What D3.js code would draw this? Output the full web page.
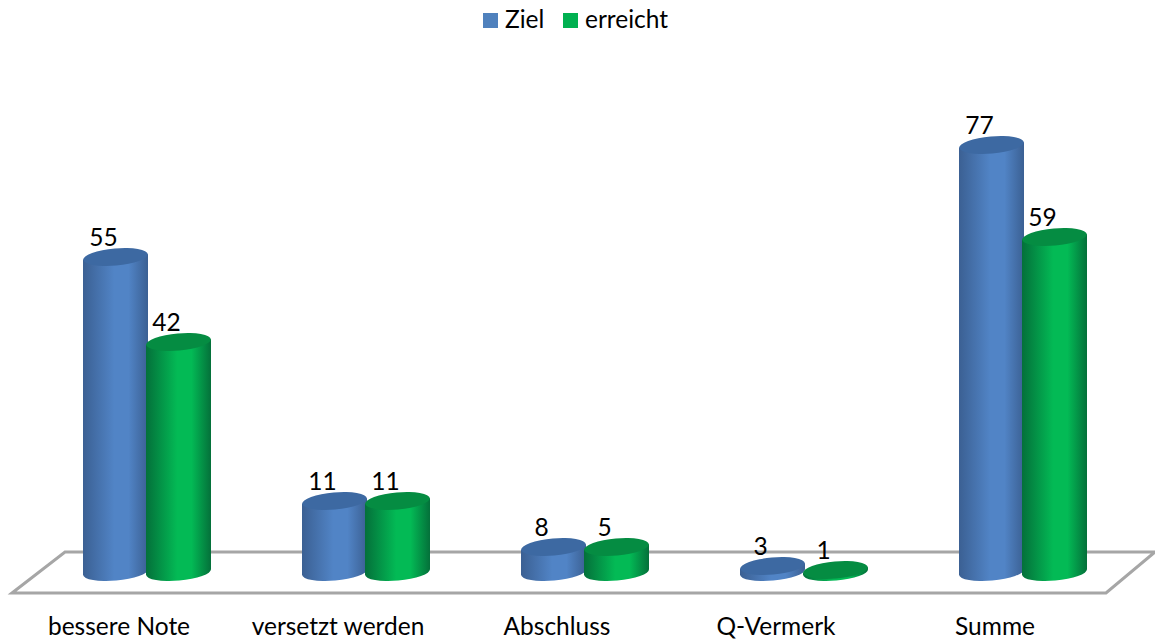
<!DOCTYPE html>
<html>
<head>
<meta charset="utf-8">
<script src="https://cdn.jsdelivr.net/npm/d3@7"></script>
<style>
  html, body { margin: 0; padding: 0; background: #fff; }
  text { font-family: Lato, "Open Sans", sans-serif; fill: #000; }
</style>
</head>
<body>
<div id="chart"></div>
<script>
var categories = ["bessere Note", "versetzt werden", "Abschluss", "Q-Vermerk", "Summe"];
var seriesNames = ["Ziel", "erreicht"];
var ziel = [55, 11, 8, 3, 77];
var erreicht = [42, 11, 5, 1, 59];

// the value axis of the original is not even: small bars are not in proportion
// to their labels, so the scale has a stop for each value seen in the picture
var valueStops = [0, 1, 3, 5, 8, 11, 42, 55, 59, 77];
var pixelStops = [572, 570, 566, 547, 547, 501, 342, 257, 237, 145];

var width = 1155, height = 639;
var rx = 32.5, ry = 8.5, tilt = -5;
var colors = {
  Ziel: {edge: "#3b6093", mid: "#5184c6", top: "#3d69a2"},
  erreicht: {edge: "#04703a", mid: "#03ba55", top: "#058c42"}
};

var svg = d3.select("#chart").append("svg")
    .attr("width", width).attr("height", height);

var x0 = d3.scaleBand().domain(categories).range([37.5, 1132.5]);
var x1 = d3.scalePoint().domain(seriesNames).range([-31.5, 31.5]);
var y = d3.scaleLinear().domain(valueStops).range(pixelStops);

// gradients for the cylinder sides
var defs = svg.append("defs");
seriesNames.forEach(function(name) {
  var c = colors[name];
  var grad = defs.append("linearGradient").attr("id", "side-" + name);
  grad.append("stop").attr("offset", "0%").attr("stop-color", c.edge);
  grad.append("stop").attr("offset", "48%").attr("stop-color", c.mid);
  grad.append("stop").attr("offset", "70%").attr("stop-color", c.mid);
  grad.append("stop").attr("offset", "100%").attr("stop-color", c.edge);
});

// floor
svg.append("path")
    .attr("d", "M12,593 L65,552 L1155,552 L1106,593 Z")
    .attr("fill", "none")
    .attr("stroke", "#a6a6a6")
    .attr("stroke-width", 3);

// a flat table of bars, drawn left to right
var bars = [];
categories.forEach(function(c, i) {
  bars.push({cat: c, series: "Ziel", value: ziel[i]});
  bars.push({cat: c, series: "erreicht", value: erreicht[i]});
});

var cx = function(d) { return x0(d.cat) + x0.bandwidth() / 2 + x1(d.series); };
var dy = Math.tan(tilt * Math.PI / 180) * rx;

var bar = svg.selectAll("g.bar")
    .data(bars)
  .enter().append("g")
    .attr("class", "bar")
    .attr("transform", function(d) { return "translate(" + cx(d) + ",0)"; });

bar.append("path")
    .attr("fill", function(d) { return "url(#side-" + d.series + ")"; })
    .attr("d", function(d) {
      var top = y(d.value), base = y(0);
      return "M" + (-rx) + "," + (top - dy) +
        " L" + (-rx) + "," + (base - dy) +
        " A" + rx + "," + ry + " " + tilt + " 0 0 " + rx + "," + (base + dy) +
        " L" + rx + "," + (top + dy) + " Z";
    });

bar.append("ellipse")
    .attr("rx", rx)
    .attr("ry", ry)
    .attr("fill", function(d) { return colors[d.series].top; })
    .attr("transform", function(d) { return "translate(0," + y(d.value) + ") rotate(" + tilt + ")"; });

bar.append("text")
    .attr("x", -12)
    .attr("y", function(d) { return y(d.value) - 11; })
    .attr("text-anchor", "middle")
    .style("font-size", "24.5px")
    .text(function(d) { return d.value; });

// category labels sit left of the bars, as in the original perspective
var xAxis = svg.append("g")
    .attr("transform", "translate(-28,635)")
    .call(d3.axisBottom(x0).tickSize(0).tickPadding(0));
xAxis.select(".domain").remove();
xAxis.selectAll("text")
    .attr("y", 0)
    .attr("dy", 0)
    .style("font-size", "24.5px");

// legend
var legendX = d3.scaleOrdinal().domain(seriesNames).range([483, 563]);
var legend = svg.selectAll("g.legend")
    .data(seriesNames)
  .enter().append("g")
    .attr("class", "legend")
    .attr("transform", function(d) { return "translate(" + legendX(d) + ",13)"; });
legend.append("rect")
    .attr("width", 15).attr("height", 15)
    .attr("fill", function(d) { return d === "Ziel" ? "#4f81bd" : "#00b050"; });
legend.append("text")
    .attr("x", 22).attr("y", 15)
    .style("font-size", "24.5px")
    .text(function(d) { return d; });
</script>
</body>
</html>
